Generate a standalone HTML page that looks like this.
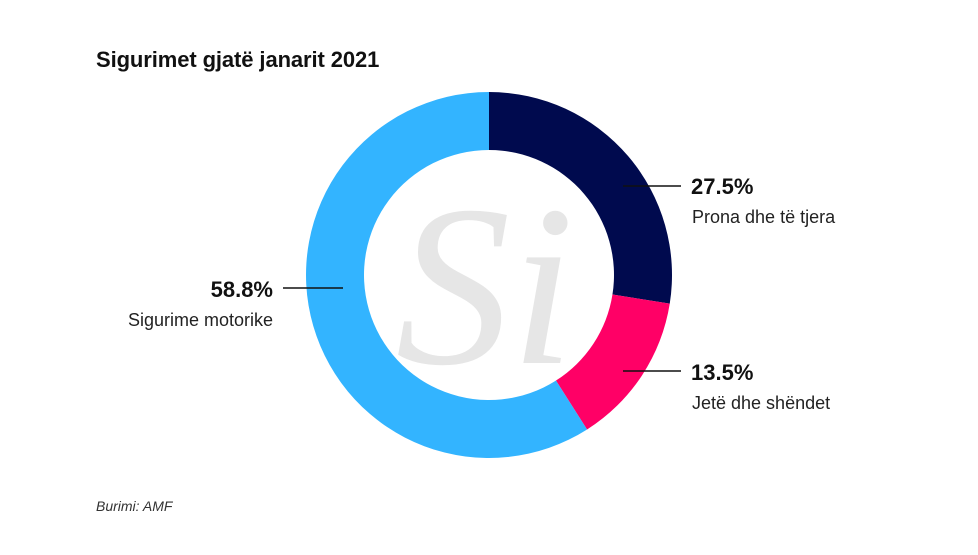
<!DOCTYPE html>
<html><head><meta charset="utf-8"><style>
html,body{margin:0;padding:0;background:#fff;}
body{width:978px;height:550px;overflow:hidden;font-family:"Liberation Sans",sans-serif;}
</style></head><body>
<svg width="978" height="550" viewBox="0 0 978 550" xmlns="http://www.w3.org/2000/svg">
<rect width="978" height="550" fill="#fff"/>
<text x="96" y="67" font-family="Liberation Sans" font-weight="bold" font-size="22" fill="#111" letter-spacing="-0.1">Sigurimet gjatë janarit 2021</text>
<g transform="translate(489,275)">
<path d="M0,-183 A183,183 0 0 1 180.75,28.63 L123.46,19.55 A125,125 0 0 0 0,-125 Z" fill="#000a4e"/>
<path d="M180.75,28.63 A183,183 0 0 1 98.07,154.51 L66.98,105.54 A125,125 0 0 0 123.46,19.55 Z" fill="#ff0066"/>
<path d="M98.07,154.51 A183,183 0 1 1 0,-183 L0,-125 A125,125 0 1 0 66.98,105.54 Z" fill="#33b4ff"/>
<text x="-4" y="88" text-anchor="middle" font-family="Liberation Serif" font-style="italic" font-size="230" fill="#e6e6e6">Si</text>
</g>
<line x1="623" y1="186" x2="681" y2="186" stroke="#111" stroke-width="1.5"/>
<line x1="623" y1="371" x2="681" y2="371" stroke="#111" stroke-width="1.5"/>
<line x1="283" y1="288" x2="343" y2="288" stroke="#111" stroke-width="1.5"/>
<text x="691" y="194" font-weight="bold" font-size="22" fill="#111">27.5%</text>
<text x="692" y="223" font-size="18" fill="#222">Prona dhe të tjera</text>
<text x="691" y="380" font-weight="bold" font-size="22" fill="#111">13.5%</text>
<text x="692" y="409" font-size="18" fill="#222">Jetë dhe shëndet</text>
<text x="273" y="297" text-anchor="end" font-weight="bold" font-size="22" fill="#111">58.8%</text>
<text x="273" y="326" text-anchor="end" font-size="18" fill="#222">Sigurime motorike</text>
<text x="96" y="511" font-style="italic" font-size="14" fill="#333">Burimi: AMF</text>
</svg>
</body></html>
